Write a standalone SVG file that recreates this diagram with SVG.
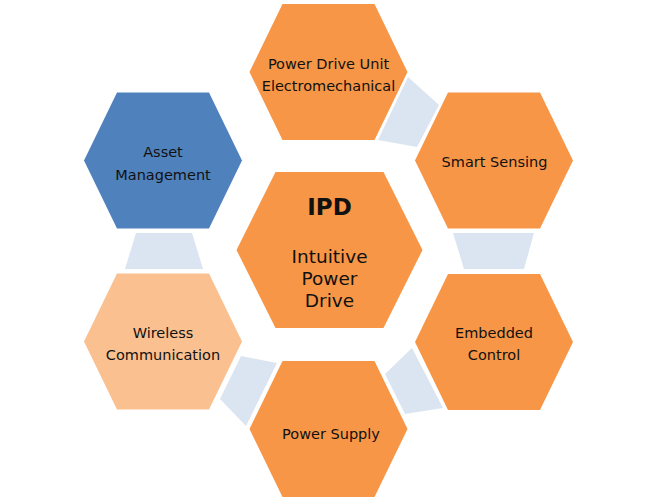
<svg xmlns="http://www.w3.org/2000/svg" width="660" height="503" viewBox="0 0 660 503">
<defs>
<style>
.hex{fill:#F79646}
.blue{fill:#4F81BD}
.light{fill:#FAC090}
.conn{fill:#DBE5F1}
text{font-family:"DejaVu Sans","Verdana",sans-serif;font-size:14.5px;fill:#111;text-anchor:middle}
.big{font-size:18.5px}
.ipd{font-size:23px;font-weight:bold}
</style>
<polygon id="outerHex" points="-79,0 -46,-68 46,-68 79,0 46,68 -46,68"/>
</defs>
<rect width="660" height="503" fill="#fff"/>
<g id="connectors">
<polygon class="conn" points="136,233 192,233 203,269 125,269"/>
<polygon class="conn" points="453,233 534,233 524,269 464,269"/>
<polygon class="conn" points="408,77 439,105 417,147 378,140"/>
<polygon class="conn" points="412,348 443,408 405,414 385,374"/>
<polygon class="conn" points="241,356 277,363 246,426 220,399"/>
</g>
<g id="pdu">
<use href="#outerHex" class="hex" x="328.5" y="72"/>
<text x="328.5" y="69">Power Drive Unit</text>
<text x="328.5" y="91">Electromechanical</text>
</g>
<g id="smart-sensing">
<use href="#outerHex" class="hex" x="494" y="160.5"/>
<text x="494.5" y="167">Smart Sensing</text>
</g>
<g id="embedded-control">
<use href="#outerHex" class="hex" x="494" y="342"/>
<text x="494" y="338">Embedded</text>
<text x="494" y="360">Control</text>
</g>
<g id="power-supply">
<use href="#outerHex" class="hex" x="328.5" y="429"/>
<text x="331" y="439">Power Supply</text>
</g>
<g id="wireless">
<use href="#outerHex" class="light" x="163" y="341.5"/>
<text x="163" y="338">Wireless</text>
<text x="163" y="360">Communication</text>
</g>
<g id="asset-management">
<use href="#outerHex" class="blue" x="163" y="160.5"/>
<text x="163" y="157">Asset</text>
<text x="163" y="180">Management</text>
</g>
<g id="ipd">
<polygon class="hex" points="236.5,250 275.5,172 383.5,172 422.5,250 383.5,328 275.5,328"/>
<text class="ipd" x="329.5" y="215">IPD</text>
<text class="big" x="329.5" y="263">Intuitive</text>
<text class="big" x="329.5" y="285">Power</text>
<text class="big" x="329.5" y="307">Drive</text>
</g>
</svg>
